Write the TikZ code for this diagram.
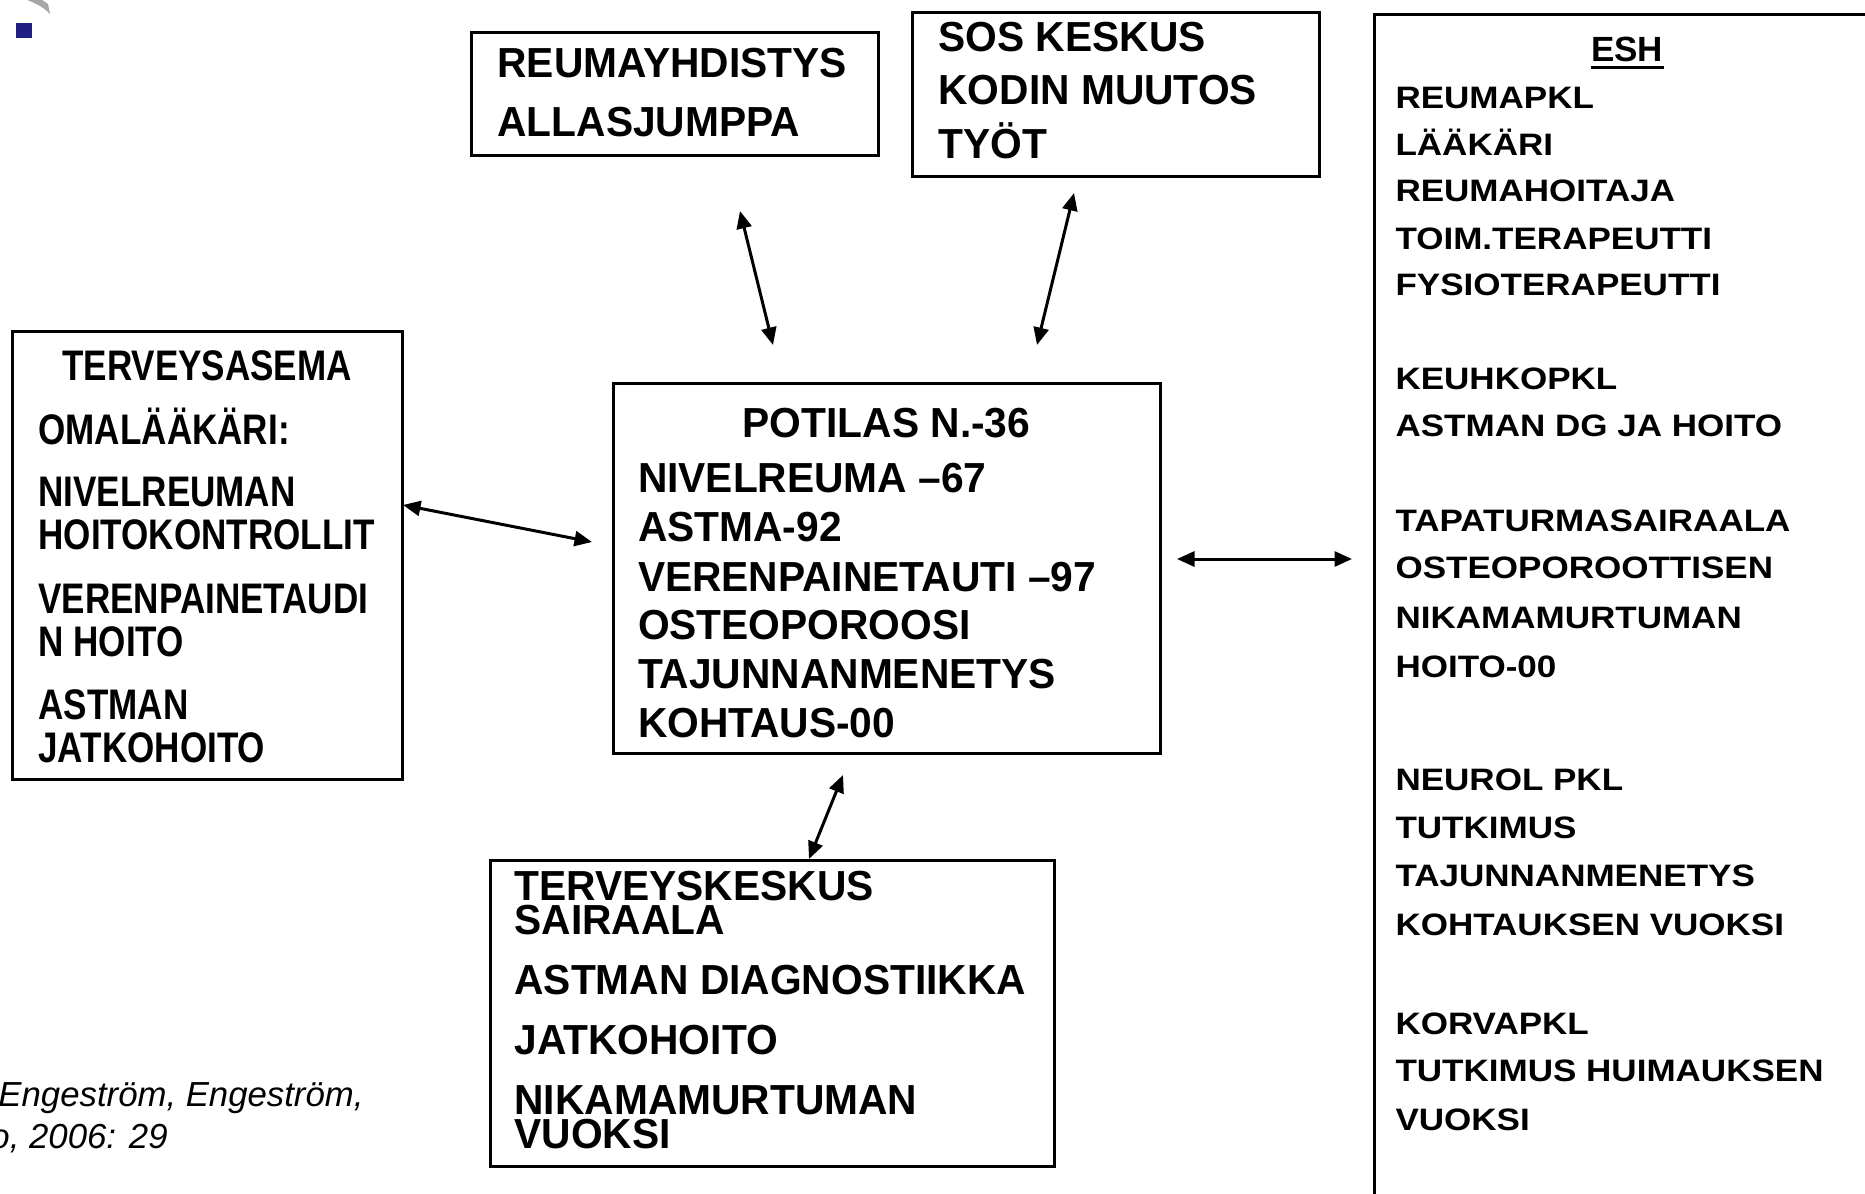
\documentclass[tikz,border=0pt]{standalone}
\usepackage{fontspec}
\setmainfont{Liberation Sans}
\newfontfamily\narrowfont{Liberation Sans}[FakeStretch=0.82]
\newfontfamily\normfont{Liberation Sans}[FakeStretch=0.97]
\newfontfamily\widefont{Liberation Sans}[FakeStretch=1.13]
\usetikzlibrary{arrows.meta}
\definecolor{navyblue}{RGB}{32,32,130}
\begin{document}
\begin{tikzpicture}[x=0.4pt,y=-0.4pt,
  box/.style={draw,line width=1.2pt,rectangle,inner sep=0pt},
  big/.style={anchor=base west,inner sep=0pt,font=\normfont\bfseries\fontsize{16.8}{20}\selectfont},
  mid/.style={anchor=base west,inner sep=0pt,font=\narrowfont\bfseries\fontsize{17.1}{20}\selectfont},
  eshl/.style={anchor=base west,inner sep=0pt,font=\widefont\bfseries\fontsize{12.4}{15}\selectfont},
  cite/.style={anchor=base west,inner sep=0pt,font=\itshape\fontsize{13.9}{16}\selectfont},
  arr/.style={{Triangle[length=7pt,width=6pt]}-{Triangle[length=7pt,width=6pt]},line width=1.2pt},
]
\useasboundingbox (0,0) rectangle (1865,1193);
\begin{scope}
\clip (0,0) rectangle (1865,1193);
% logo remnants
\fill[gray!70] (14,-5) .. controls (30,1) and (42,5) .. (50,14) -- (48,4) .. controls (40,-2) and (32,-5) .. (26,-8) -- cycle;
\fill[navyblue] (16,23) rectangle (32,38);

% boxes
\node[box,minimum width=407*0.4pt,minimum height=123*0.4pt] (reuma) at (674.5,93.5) {};
\node[box,minimum width=407*0.4pt,minimum height=164*0.4pt] (sos) at (1115.5,94) {};
\node[box,minimum width=390*0.4pt,minimum height=448*0.4pt] (ter) at (207,555) {};
\node[box,minimum width=547*0.4pt,minimum height=370*0.4pt] (pot) at (886.5,568) {};
\node[box,minimum width=564*0.4pt,minimum height=306*0.4pt] (tk) at (772,1013) {};
\node[box,minimum width=520*0.4pt,minimum height=1220*0.4pt] (esh) at (1634,624) {};

% texts
\foreach \y/\t [count=\i] in {77/REUMAYHDISTYS, 136/ALLASJUMPPA}
  \node[big] (reuma-\i) at (497,\y) {\t};
\foreach \y/\t [count=\i] in {51/SOS KESKUS, 104/KODIN MUUTOS, 158/TYÖT}
  \node[big] (sos-\i) at (938,\y) {\t};
\node[mid,anchor=base] (ter-0) at (207,380) {TERVEYSASEMA};
\foreach \y/\t [count=\i] in {444/OMALÄÄKÄRI:, 506/NIVELREUMAN, 549/HOITOKONTROLLIT, 613/VERENPAINETAUDI, 656/N HOITO, 719/ASTMAN, 762/JATKOHOITO}
  \node[mid] (ter-\i) at (38,\y) {\t};
\node[big,anchor=base] (pot-0) at (886.5,437) {POTILAS N.-36};
\foreach \y/\t [count=\i] in {492/NIVELREUMA –67, 541/ASTMA-92, 591/VERENPAINETAUTI –97, 639/OSTEOPOROOSI, 688/TAJUNNANMENETYS, 737/KOHTAUS-00}
  \node[big] (pot-\i) at (637.5,\y) {\t};
\foreach \y/\t [count=\i] in {900/TERVEYSKESKUS, 934/SAIRAALA, 994/ASTMAN DIAGNOSTIIKKA, 1054/JATKOHOITO, 1114/NIKAMAMURTUMAN, 1148/VUOKSI}
  \node[big] (tk-\i) at (514,\y) {\t};
\node[anchor=base,inner sep=0pt,font=\bfseries\fontsize{14}{16}\selectfont] (esh-0) at (1627,61) {ESH};
\draw[line width=1.2pt] ([yshift=-2.4pt]esh-0.base west) -- ([yshift=-2.4pt]esh-0.base east);
\foreach \y/\t [count=\i] in {108.5/REUMAPKL, 155/LÄÄKÄRI, 201/REUMAHOITAJA, 249/TOIM.TERAPEUTTI, 295/FYSIOTERAPEUTTI,
  389/KEUHKOPKL, 436/ASTMAN DG JA HOITO,
  531/TAPATURMASAIRAALA, 578/OSTEOPOROOTTISEN, 628/NIKAMAMURTUMAN, 677/HOITO-00,
  790/NEUROL PKL, 838/TUTKIMUS, 886/TAJUNNANMENETYS, 935/KOHTAUKSEN VUOKSI,
  1034/KORVAPKL, 1081/TUTKIMUS HUIMAUKSEN, 1130/VUOKSI}
  \node[eshl] (esh-\i) at (1395,\y) {\t};

% citation
\node[cite] (cit1) at (-2,1106) {Engeström, Engeström,};
\node[cite] (cit2) at (-10,1148) {o, 2006: 29};

% arrow end points
\coordinate (a1s) at (740,211); \coordinate (a1e) at (773,345);
\coordinate (a2s) at (1074,193); \coordinate (a2e) at (1037,345);
\coordinate (a3s) at (403,505); \coordinate (a3e) at (592,542);
\coordinate (a4s) at (1177,559); \coordinate (a4e) at (1352,559);
\coordinate (a5s) at (843,775); \coordinate (a5e) at (809,859);
\draw[arr] (a1s) -- (a1e);
\draw[arr] (a2s) -- (a2e);
\draw[arr] (a3s) -- (a3e);
\draw[arr] (a4s) -- (a4e);
\draw[arr] (a5s) -- (a5e);
\end{scope}
\end{tikzpicture}
\end{document}
